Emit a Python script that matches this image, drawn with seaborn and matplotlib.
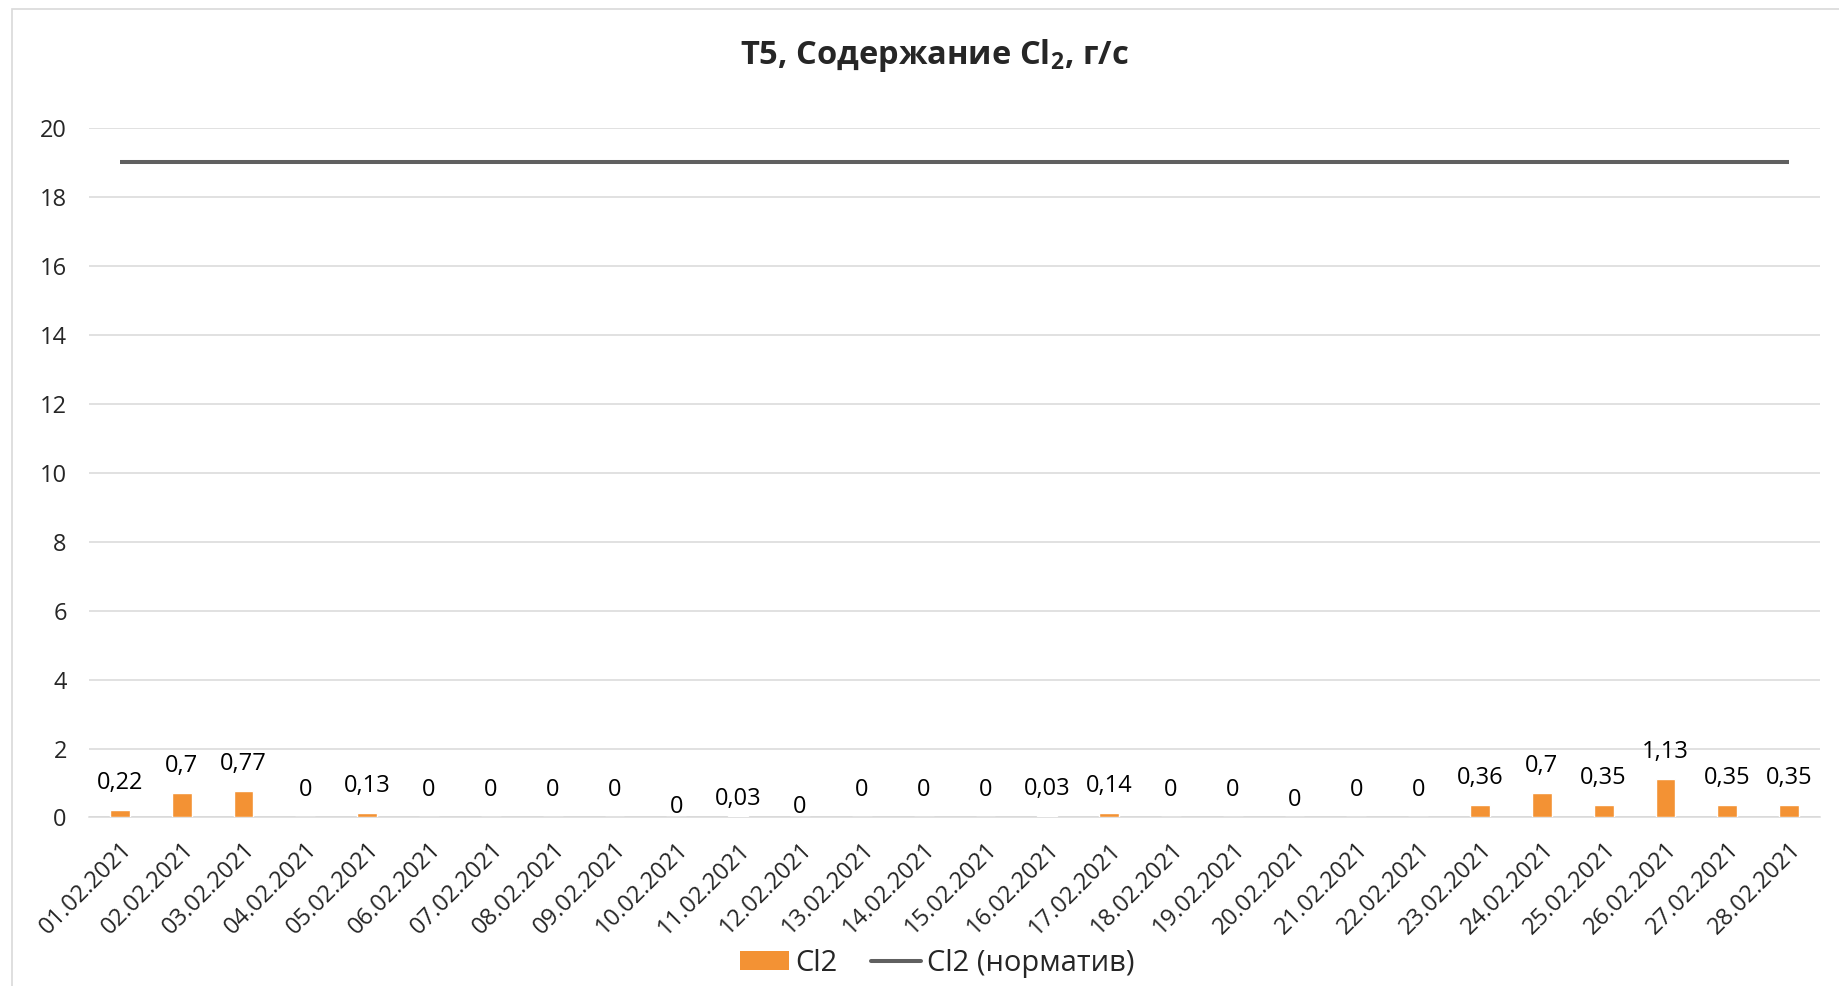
import numpy as np
import pandas as pd
import seaborn as sns
import matplotlib.pyplot as plt
from matplotlib.patches import Patch, Rectangle
from matplotlib.lines import Line2D

# data
dates = [f"{d:02d}.02.2021" for d in range(1, 29)]
cl2 = [0.22, 0.7, 0.77, 0, 0.13, 0, 0, 0, 0, 0, 0.03, 0, 0, 0, 0, 0.03, 0.14,
       0, 0, 0, 0, 0, 0.36, 0.7, 0.35, 1.13, 0.35, 0.35]
cl2_norm = [19] * 28
y_ticks = [0, 2, 4, 6, 8, 10, 12, 14, 16, 18, 20]

BAR_COLOR = "#F39234"
LINE_COLOR = "#606060"
GRID_COLOR = "#d9d9d9"

# a few labels sit lower in the original (Excel placement quirk), px
label_drop = {"10.02.2021": 17, "11.02.2021": 10, "12.02.2021": 17, "20.02.2021": 10}


def main():
    sns.set_theme(style="white")
    plt.rcParams["font.family"] = ["Open Sans", "DejaVu Sans"]
    plt.rcParams["mathtext.fontset"] = "custom"
    plt.rcParams["mathtext.rm"] = "Open Sans"
    plt.rcParams["mathtext.bf"] = "Open Sans:bold"

    df = pd.DataFrame({"date": dates, "Cl2": cl2, "norm": cl2_norm})

    fig = plt.figure(figsize=(18.39, 9.86), dpi=100)
    ax = fig.add_axes([0.0484, 0.1709, 0.9413, 0.6993])

    sns.barplot(data=df, x="date", y="Cl2", color=BAR_COLOR, width=0.32,
                saturation=1, ax=ax, zorder=3)
    ax.plot(np.arange(len(dates)), df["norm"], color=LINE_COLOR, lw=2.9,
            zorder=4, solid_capstyle="butt")

    # value labels
    for i, (d, v) in enumerate(zip(dates, cl2)):
        txt = f"{v:g}".replace(".", ",")
        ax.annotate(txt, (i, v), xytext=(0, 27 - label_drop.get(d, 0)),
                    textcoords="offset pixels", ha="center", va="center",
                    fontsize=17, color="black", zorder=5)

    ax.set_ylim(0, 20)
    ax.set_xlim(-0.5, len(dates) - 0.5)
    ax.set_yticks(y_ticks)
    ax.set_yticklabels([str(t) for t in y_ticks], fontsize=17)
    ax.yaxis.grid(True, color=GRID_COLOR, lw=1.1, zorder=0)
    ax.set_axisbelow(True)
    ax.set_xlabel("")
    ax.set_ylabel("")

    ax.set_xticks(np.arange(len(dates)))
    ax.set_xticklabels(dates, rotation=45, ha="right", rotation_mode="anchor",
                       fontsize=17)
    ax.set_xticks(np.arange(-0.5, len(dates), 1), minor=True)
    ax.tick_params(axis="x", which="major", length=0, pad=14.5)
    ax.tick_params(axis="x", which="minor", length=6, width=1.1, color=GRID_COLOR)
    ax.tick_params(axis="y", length=0, pad=16)

    for s in ["top", "right", "left"]:
        ax.spines[s].set_visible(False)
    ax.spines["bottom"].set_color(GRID_COLOR)
    ax.spines["bottom"].set_linewidth(1.1)

    fig.text(0.508, 0.944, r"T5, Содержание Cl$_{\mathbf{2}}$, г/с",
             ha="center", va="center", fontsize=23.5, fontweight="bold")

    handles = [Patch(facecolor=BAR_COLOR, edgecolor="none"),
               Line2D([], [], color=LINE_COLOR, lw=2.9)]
    fig.legend(handles, ["Cl2", "Cl2 (норматив)"], loc="center",
               bbox_to_anchor=(0.5095, 0.0233), ncol=2, frameon=False,
               fontsize=21, handlelength=1.7, handleheight=0.62,
               handletextpad=0.2, columnspacing=1.15)

    # chart area border (cut off right and bottom in the original)
    fig.patches.append(Rectangle((12 / 1839, -0.05), 1.1, 1.05 - 9 / 986,
                                 transform=fig.transFigure, fill=False,
                                 edgecolor=GRID_COLOR, lw=1.2))

    fig.savefig("out.png", dpi=100)


if __name__ == "__main__":
    main()
